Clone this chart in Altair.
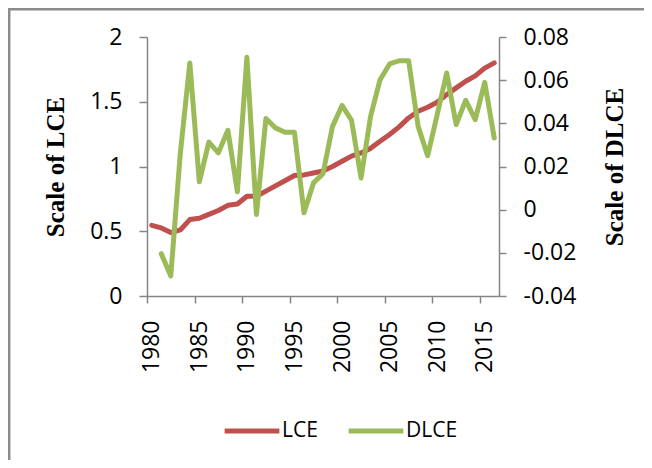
import altair as alt
import pandas as pd

YEARS = list(range(1980, 2017))
LCE = [0.546, 0.526, 0.49, 0.51, 0.59, 0.60, 0.63, 0.66, 0.70, 0.71, 0.77, 0.77,
       0.81, 0.85, 0.89, 0.93, 0.935, 0.95, 0.965, 1.0, 1.04, 1.08, 1.105, 1.14,
       1.195, 1.247, 1.306, 1.375, 1.427, 1.458, 1.496, 1.555, 1.607, 1.658,
       1.70, 1.76, 1.80]
DLCE_YEARS = YEARS[1:]
DLCE = [-0.0204, -0.0307, 0.026, 0.068, 0.0129, 0.0313, 0.0263, 0.0368, 0.0083,
        0.0706, -0.0022, 0.0422, 0.0379, 0.0359, 0.0359, -0.0014, 0.0124, 0.0167,
        0.0386, 0.0483, 0.0414, 0.0147, 0.0432, 0.0602, 0.0675, 0.069, 0.069,
        0.0386, 0.025, 0.044, 0.0633, 0.0394, 0.0507, 0.0417, 0.059, 0.0332]
SERIES = ["LCE", "DLCE"]
COLORS = ["#C0504D", "#9BBB59"]
LEFT_TICKS = [0, 0.5, 1, 1.5, 2]
RIGHT_TICKS = [-0.04, -0.02, 0, 0.02, 0.04, 0.06, 0.08]
X_LABEL_YEARS = [1980, 1985, 1990, 1995, 2000, 2005, 2010, 2015]

df_lce = pd.DataFrame({"year": YEARS, "value": LCE, "series": "LCE"})
df_dlce = pd.DataFrame({"year": DLCE_YEARS, "value": DLCE, "series": "DLCE"})

LABEL_FONT = "Open Sans"
TITLE_FONT = "Liberation Serif"
AXIS_GRAY = "#868686"

x_axis = alt.Axis(
    values=[y - 0.5 for y in X_LABEL_YEARS],
    labelExpr="datum.value + 0.5",
    labelOffset=4.75,
    labelAngle=270,
    labelFont=LABEL_FONT, labelFontSize=23, labelColor="black",
    labelPadding=17, tickSize=7, tickColor=AXIS_GRAY, domainColor=AXIS_GRAY,
    domainWidth=1.5, tickWidth=1.5, grid=False, title=None,
)
x_enc = alt.X("year:Q", scale=alt.Scale(domain=[1979.5, 2016.5], nice=False, zero=False), axis=x_axis)

color_enc = alt.Color(
    "series:N",
    scale=alt.Scale(domain=SERIES, range=COLORS),
    legend=alt.Legend(
        title=None, orient="none", direction="horizontal",
        legendX=75, legendY=364,
        symbolType="stroke", symbolSize=3000, symbolStrokeWidth=5,
        labelFont=LABEL_FONT, labelFontSize=21, labelColor="black",
        labelOffset=0, columnPadding=20, padding=0,
    ),
)

border = alt.Chart(pd.DataFrame({"a": [0]})).mark_rect(
    fillOpacity=0, stroke="#8c8c8c", strokeWidth=2.5
).encode(
    x=alt.value(-137.8), x2=alt.value(800), y=alt.value(-27.8), y2=alt.value(800)
)

lce = alt.Chart(df_lce).mark_line(strokeWidth=5, strokeJoin="round", strokeCap="round").encode(
    x=x_enc,
    y=alt.Y("value:Q", scale=alt.Scale(domain=[0, 2], nice=False),
            axis=alt.Axis(orient="left", values=LEFT_TICKS, format="~g",
                          labelFont=LABEL_FONT, labelFontSize=23, labelColor="black",
                          labelPadding=17, tickSize=8, tickColor=AXIS_GRAY,
                          domainColor=AXIS_GRAY, domainWidth=1.5, tickWidth=1.5,
                          grid=False, title="Scale of LCE",
                          titleFont=TITLE_FONT, titleFontSize=25, titleFontWeight="bold",
                          titleColor="black", titleAngle=270, titleX=-92, titleY=129.5,
                          titleAlign="center", titleBaseline="middle")),
    color=color_enc,
)

dlce = alt.Chart(df_dlce).mark_line(strokeWidth=5, strokeJoin="round", strokeCap="round").encode(
    x=x_enc,
    y=alt.Y("value:Q", scale=alt.Scale(domain=[-0.04, 0.08], nice=False, zero=False),
            axis=alt.Axis(orient="right", values=RIGHT_TICKS,
                          labelExpr="datum.value == 0 ? '0' : (datum.value < 0 ? '-' : '') + format(abs(datum.value), '.2f')",
                          labelFont=LABEL_FONT, labelFontSize=23, labelColor="black",
                          labelPadding=17, tickSize=7, tickColor=AXIS_GRAY,
                          domainColor=AXIS_GRAY, domainWidth=1.5, tickWidth=1.5,
                          grid=False, title="Scale of DLCE",
                          titleFont=TITLE_FONT, titleFontSize=25, titleFontWeight="bold",
                          titleColor="black", titleAngle=270, titleX=115, titleY=129.5,
                          titleAlign="center", titleBaseline="middle")),
    color=color_enc,
)

chart = alt.layer(border, lce, dlce).resolve_scale(y="independent").properties(
    width=352, height=259,
    autosize=alt.AutoSizeParams(type="none"),
    padding={"left": 139, "top": 29, "right": 145, "bottom": 164},
    background="white",
).configure_view(strokeWidth=0)

chart.save("out.html", embed_options={"renderer": "svg", "actions": False})
